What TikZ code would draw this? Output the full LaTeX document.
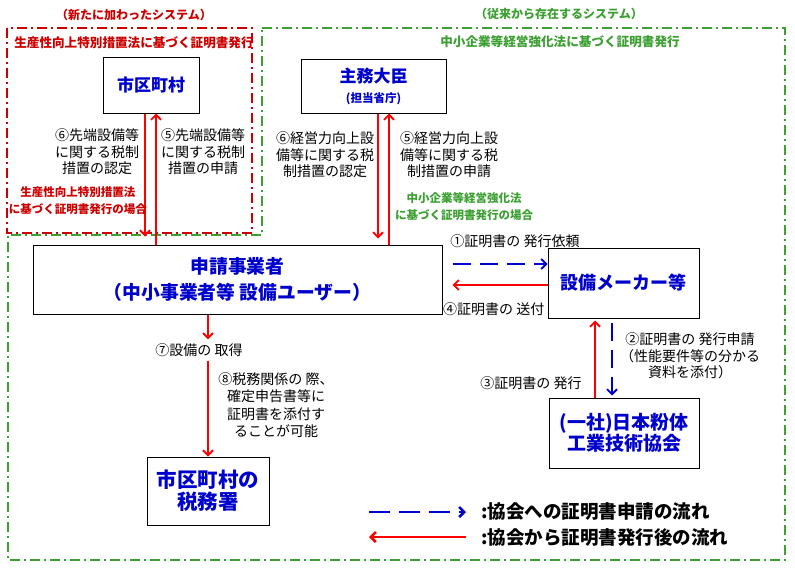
\documentclass[tikz,border=0pt]{standalone}
\usepackage{fontspec}
\setmainfont{Noto Sans CJK JP}
\usetikzlibrary{arrows.meta}
\definecolor{boxblue}{RGB}{0,0,204}
\definecolor{arrred}{RGB}{255,0,0}
\definecolor{newred}{RGB}{204,0,0}
\definecolor{oldgreen}{RGB}{60,160,50}
\begin{document}
\begin{tikzpicture}[x=1pt,y=-1pt,
  box/.style={draw,line width=1pt,text=boxblue,font=\bfseries\fontsize{17}{22}\selectfont,align=center,inner sep=0pt},
  note/.style={font=\fontsize{14}{16.5}\selectfont,align=center,inner sep=1pt},
  rarr/.style={arrred,line width=1.8pt,-{Straight Barb[length=5pt,width=10pt]}},
  barr/.style={boxblue,line width=1.8pt,dash pattern=on 18pt off 9pt,-{Straight Barb[length=5pt,width=10pt]}},
  sysline/.style={line width=1.8pt,dash pattern=on 10pt off 4pt on 2pt off 4pt},
  systitle/.style={font=\bfseries\fontsize{12}{15}\selectfont,inner sep=0pt},
  casetext/.style={font=\bfseries\fontsize{11.5}{17}\selectfont,align=center,inner sep=0pt},
  legtext/.style={font=\bfseries\fontsize{18.5}{20}\selectfont,anchor=west,inner sep=0pt}]
\useasboundingbox (0,0) rectangle (795,570);

% system frames
\draw[sysline,oldgreen] (262,28) -- (785,28) -- (785,560) -- (8,560) -- (8,235) -- (262,235) -- cycle;
\draw[sysline,newred] (7,28) rectangle (252,233);
\node[systitle,newred] (tnew) at (134,15) {（新たに加わったシステム）};
\node[systitle,oldgreen] (told) at (559,14) {（従来から存在するシステム）};
\node[systitle,newred,font=\bfseries\fontsize{12.6}{15}\selectfont] (snew) at (134,43) {生産性向上特別措置法に基づく証明書発行};
\node[systitle,oldgreen,font=\bfseries\fontsize{12.6}{15}\selectfont] (sold) at (560,42) {中小企業等経営強化法に基づく証明書発行};

% boxes
\node[box,minimum width=96pt,minimum height=56pt] (muni) at (151,85) {市区町村};
\node[box,minimum width=145pt,minimum height=54pt] (minister) at (373.5,86)
  {主務大臣\\[-2pt]{\fontsize{11.5}{14}\selectfont (担当省庁)}};
\node[box,minimum width=409pt,minimum height=69pt,font=\bfseries\fontsize{18.8}{26}\selectfont] (applicant) at (237.5,279.5)
  {申請事業者\\（中小事業者等\ 設備ユーザー）};
\node[box,minimum width=151pt,minimum height=70pt,font=\bfseries\fontsize{18}{22}\selectfont] (maker) at (623.5,283) {設備メーカー等};
\node[box,minimum width=150pt,minimum height=70pt,font=\bfseries\fontsize{19}{21}\selectfont] (powder) at (624,433)
  {(一社)日本粉体\\工業技術協会};
\node[box,minimum width=122pt,minimum height=68pt,font=\bfseries\fontsize{20.5}{22}\selectfont] (tax) at (208,491)
  {市区町村の\\税務署};

% new system
\coordinate (mdown) at ([xshift=-6pt]muni.south);
\coordinate (mup) at ([xshift=5pt]muni.south);
\draw[rarr,shorten >=8pt] (mdown) -- (mdown |- applicant.north);
\draw[rarr] (mup |- applicant.north) -- (mup);
\node[note] (l6a) at (97,152) {⑥先端設備等\\に関する税制\\措置の認定};
\node[note] (l5a) at (203,152) {⑤先端設備等\\に関する税制\\措置の申請};
\node[casetext,newred] (casenew) at (78,201) {生産性向上特別措置法\\に基づく証明書発行の場合};

% old system
\coordinate (sdown) at ([xshift=4.5pt]minister.south);
\coordinate (sup) at ([xshift=15.5pt]minister.south);
\draw[rarr,shorten >=6pt] (sdown) -- (sdown |- applicant.north);
\draw[rarr] (sup |- applicant.north) -- (sup);
\node[note] (l6b) at (325,155) {⑥経営力向上設\\備等に関する税\\制措置の認定};
\node[note] (l5b) at (449,155) {⑤経営力向上設\\備等に関する税\\制措置の申請};
\node[casetext,oldgreen] (caseold) at (464,207) {中小企業等経営強化法\\に基づく証明書発行の場合};

% applicant <-> maker
\coordinate (req) at ([yshift=19pt]maker.west);
\coordinate (snd) at ([yshift=-2pt]maker.west);
\draw[barr,shorten <=10pt] (req -| applicant.east) -- (req);
\draw[rarr,shorten >=10pt] (snd) -- (snd -| applicant.east);
\node[note] (l1) at (515,241) {①証明書の 発行依頼};
\node[note,anchor=west] (l4) at (442,309) {④証明書の 送付};

% maker <-> powder
\coordinate (iss) at ([xshift=-29pt]powder.north);
\coordinate (app) at ([xshift=-12pt]powder.north);
\draw[rarr,shorten >=2pt] (iss) -- (iss |- maker.south);
\draw[barr,shorten <=4pt,shorten >=2pt] (app |- maker.south) -- (app);
\node[note] (l2) at (690,356) {②証明書の 発行申請\\（性能要件等の分かる\\資料を添付）};
\node[note] (l3) at (531,383) {③証明書の 発行};

% applicant -> tax office
\node[note] (acq) at (199,350) {⑦設備の 取得};
\draw[rarr,shorten >=3pt] (applicant.south -| tax.north) -- (acq.north -| tax.north);
\draw[rarr,shorten <=3pt] (acq.south -| tax.north) -- (tax.north);
\node[note,font=\fontsize{14}{17.5}\selectfont] (l8) at (276,405) {⑧税務関係の 際、\\確定申告書等に\\証明書を添付す\\ることが可能};

% legend
\coordinate (lgbl) at (369,512);
\coordinate (lgbr) at (466,512);
\coordinate (lgrl) at (369,537);
\coordinate (lgrr) at (466,537);
\draw[barr,line width=2.6pt,dash pattern=on 21pt off 9pt] (lgbl) -- (lgbr);
\draw[rarr,line width=2.6pt] (lgrr) -- (lgrl);
\node[legtext] (lgb) at (481,512) {:協会への証明書申請の流れ};
\node[legtext] (lgr) at (481,537) {:協会から証明書発行後の流れ};
\end{tikzpicture}
\end{document}
